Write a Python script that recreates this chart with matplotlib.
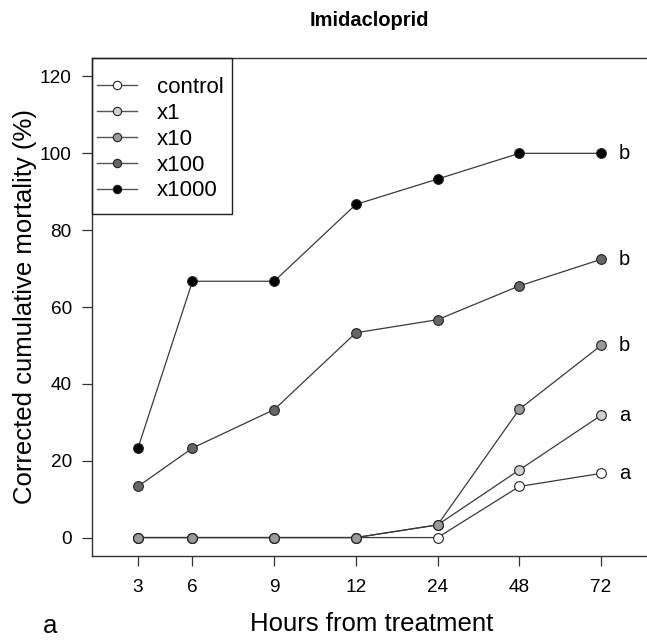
import matplotlib
matplotlib.use('Agg')
import matplotlib.pyplot as plt
from matplotlib.lines import Line2D
from matplotlib.patches import Rectangle

plt.rcParams['font.family'] = ['Liberation Sans', 'DejaVu Sans']

# data
hours = ['3', '6', '9', '12', '24', '48', '72']
xpos = [0, 2/3, 5/3, 8/3, 11/3, 14/3, 17/3]   # uneven spacing of the hour categories
groups = ['control', 'x1', 'x10', 'x100', 'x1000']
control = [0, 0, 0, 0, 0, 13.3, 16.7]
x1 = [0, 0, 0, 0, 3.3, 17.6, 31.8]
x10 = [0, 0, 0, 0, 3.3, 33.4, 50.0]
x100 = [13.3, 23.3, 33.3, 53.3, 56.7, 65.5, 72.4]
x1000 = [23.3, 66.7, 66.7, 86.7, 93.3, 100, 100]
letters = ['a', 'a', 'b', 'b', 'b']
fills = ['white', '#d0d0d0', '#999999', '#666666', 'black']

series = [control, x1, x10, x100, x1000]

W, H = 647, 642
fig = plt.figure(figsize=(W/100, H/100), dpi=100)
ax = fig.add_axes([92/W, 1 - 556/H, (652-92)/W, (556-58)/H])

for vals, fc, lab in zip(series, fills, letters):
    ax.plot(xpos, vals, color='#3a3a3a', lw=0.9, marker='o', ms=7,
            mfc=fc, mec='#222222', mew=0.8, zorder=3)
    ax.text(xpos[-1] + 0.22, vals[-1], lab, fontsize=14.5, ha='left', va='center')

ax.set_xlim(-0.563, 6.29)
ax.set_ylim(-4.8, 124.8)
ax.set_xticks(xpos)
ax.set_xticklabels(hours)
ax.set_yticks([0, 20, 40, 60, 80, 100, 120])
ax.tick_params(length=7.5, width=0.9, color='#333333', labelsize=13.7)
ax.tick_params(axis='x', pad=9)
ax.tick_params(axis='y', pad=7)
for s in ax.spines.values():
    s.set_color('#333333')
    s.set_linewidth(1.0)

ax.set_ylabel('Corrected cumulative mortality (%)', fontsize=18.5)
ax.yaxis.set_label_coords(-0.098, 0.5)
ax.set_xlabel('Hours from treatment', fontsize=18.5)
ax.xaxis.set_label_coords(0.5, -0.112)

# legend box drawn separately so the padding matches
ax.add_patch(Rectangle((0, 0.687), 0.2495, 0.313, transform=ax.transAxes,
                       fill=False, ec='#222222', lw=1.0, zorder=5, clip_on=False))
handles = [Line2D([], [], color='#555555', lw=1.0, marker='o', ms=6,
                  mfc=fc, mec='#222222', mew=0.8) for fc in fills]
ax.legend(handles, groups, loc='upper left', bbox_to_anchor=(0.009, 0.962),
          frameon=False, fontsize=16, handlelength=1.8, handletextpad=0.9,
          labelspacing=0.22, borderpad=0, borderaxespad=0)

fig.text(369/W, 1 - 20/H, 'Imidacloprid', fontsize=14.5, fontweight='bold',
         ha='center', va='center')
fig.text(50/W, 1 - 633/H, 'a', fontsize=18.5, ha='center', va='baseline')

fig.savefig('out.png', dpi=100)
